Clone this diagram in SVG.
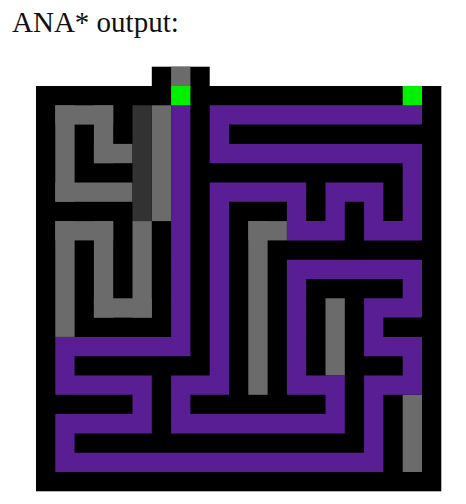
<svg xmlns="http://www.w3.org/2000/svg" width="466" height="504" viewBox="0 0 466 504">
<style>
.title{font-family:"Liberation Serif","Times New Roman",serif;font-size:29px;fill:#111}
.wall{fill:#000}
.seen{fill:#6b6b6b}
.dark{fill:#323232}
.goal{fill:#00f000}
.path{fill:none;stroke:#591e94;stroke-width:1;stroke-linejoin:miter;stroke-linecap:butt}
</style>
<rect width="466" height="504" fill="#fff"/>
<text class="title" x="12" y="32">ANA* output:</text>
<g id="maze" transform="translate(36,86) scale(19.3)">
<rect class="wall" x="0" y="0" width="21" height="21"/>
<rect class="wall" x="6" y="-1" width="3" height="1.05"/>
<g id="explored">
<rect class="seen" x="7" y="-1" width="1" height="1.02"/>
<rect class="seen" x="1" y="1" width="3" height="1"/>
<rect class="seen" x="1" y="1" width="1" height="5"/>
<rect class="seen" x="1" y="5" width="4" height="1"/>
<rect class="seen" x="3" y="1" width="1" height="3"/>
<rect class="seen" x="3" y="3" width="2" height="1"/>
<rect class="seen" x="6" y="1" width="1" height="6"/>
<rect class="dark" x="5" y="1" width="1" height="6"/>
<rect class="seen" x="1" y="7" width="3" height="1"/>
<rect class="seen" x="1" y="7" width="1" height="6"/>
<rect class="seen" x="3" y="7" width="1" height="5"/>
<rect class="seen" x="3" y="11" width="3" height="1"/>
<rect class="seen" x="5" y="7" width="1" height="5"/>
<rect class="seen" x="11" y="7" width="2" height="1"/>
<rect class="seen" x="11" y="7" width="1" height="9"/>
<rect class="seen" x="15" y="11" width="1" height="4"/>
<rect class="seen" x="19" y="16" width="1" height="4"/>
</g>
<path id="solution" class="path" d="M7.5 1V13.5H1.5V15.5H5.5V17.5H1.5V19.5H17.5V15.5H19.5V13.5H17.5V11.5H19.5V9.5H13.5V15.5H15.5V17.5H7.5V15.5H9.5V5.5H13.5V7.5H15.5V5.5H17.5V7.5H19.5V3.5H9.5V1.5H19.5V1"/>
<g id="endpoints">
<rect id="start" class="goal" x="7" y="0" width="1" height="1"/>
<rect id="goal" class="goal" x="19" y="0" width="1" height="1"/>
</g>
</g>
</svg>
